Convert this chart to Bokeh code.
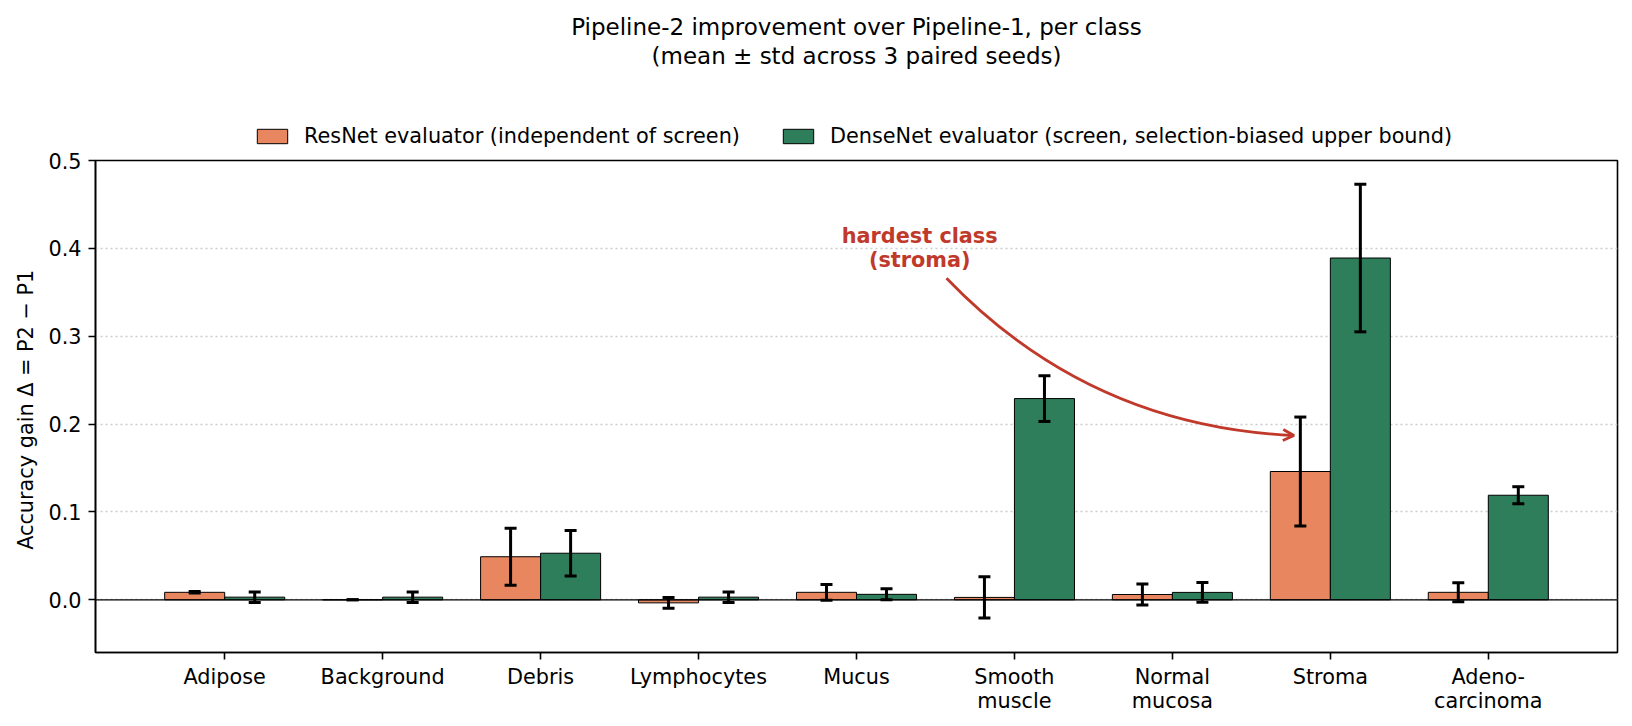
import numpy as np
from bokeh.plotting import figure
from bokeh.layouts import column
from bokeh.models import (ColumnDataSource, FixedTicker, Whisker, TeeHead, Span, Legend,
                          LegendItem, Label, Arrow, OpenHead, NumeralTickFormatter)
from bokeh.embed import file_html
from bokeh.resources import INLINE

classes = ["Adipose", "Background", "Debris", "Lymphocytes", "Mucus",
           "Smooth\nmuscle", "Normal\nmucosa", "Stroma", "Adeno-\ncarcinoma"]

resnet_mean = [0.0085, 0.0, 0.049, -0.0035, 0.0085, 0.0027, 0.006, 0.146, 0.0085]
resnet_std = [0.0008, 0.0, 0.0325, 0.006, 0.009, 0.0235, 0.012, 0.062, 0.0108]
densenet_mean = [0.003, 0.003, 0.053, 0.003, 0.0062, 0.229, 0.0084, 0.389, 0.119]
densenet_std = [0.006, 0.006, 0.026, 0.006, 0.0063, 0.026, 0.0113, 0.084, 0.0097]

labels = ["ResNet evaluator (independent of screen)",
          "DenseNet evaluator (screen, selection-biased upper bound)"]
title_lines = ["Pipeline-2 improvement over Pipeline-1, per class",
               "(mean \u00b1 std across 3 paired seeds)"]
ylabel = "Accuracy gain  \u0394 = P2 \u2212 P1"

annot_lines = ["hardest class", "(stroma)"]
annot_text_xy = (4.40, 0.40)
arrow_start = (4.57, 0.366)
arrow_end = (6.77, 0.187)
arrow_rad = 0.2

ORANGE = "#E8875F"
GREEN = "#2E7D5B"
RED = "#C0392B"
FONT = "DejaVu Sans"

W = 1624
HEAD_H = 148                       # header strip: title + legend
BL, BR, BT, BB = 95, 7, 12, 66
FRAME_H = 492
H = BT + FRAME_H + BB
xr = (-0.818, 8.818)
yr = (-0.06, 0.5)
bw = 0.38

idx = np.arange(len(classes))

# ---- header strip: titles and legend, y in pixels from the strip bottom ----
head = figure(width=W, height=HEAD_H, x_range=xr, y_range=(0, HEAD_H),
              output_backend="svg", toolbar_location=None, x_axis_type=None,
              y_axis_type=None, min_border=0, min_border_top=0, min_border_bottom=0)
head.outline_line_color = None
head.grid.visible = False
xmid = (xr[0] + xr[1]) / 2
for txt, base in zip(title_lines, (26.0, 55.0)):
    head.add_layout(Label(x=xmid, y=HEAD_H - base, y_units="screen",
                          text=txt, text_align="center", text_baseline="alphabetic",
                          text_font=FONT, text_font_size="23px", text_color="black"))
# legend proxies, kept outside the visible ranges
d1 = head.vbar(x=[xr[0] - 5], top=[-20], bottom=-30, width=bw, fill_color=ORANGE,
               line_color="black", line_width=1)
d2 = head.vbar(x=[xr[0] - 5], top=[-20], bottom=-30, width=bw, fill_color=GREEN,
               line_color="black", line_width=1)
legend = Legend(items=[LegendItem(label=labels[0], renderers=[d1]),
                       LegendItem(label=labels[1], renderers=[d2])],
                orientation="horizontal", location=(253 - BL, 0.3),
                padding=0, margin=0, spacing=39, label_standoff=13,
                glyph_width=38, glyph_height=18, label_height=20,
                border_line_alpha=0, background_fill_alpha=0,
                label_text_font=FONT, label_text_font_size="20.8px",
                label_text_color="black")
head.add_layout(legend)

# ---- main plot ----
p = figure(width=W, height=H, x_range=xr, y_range=yr, output_backend="svg",
           toolbar_location=None, min_border_left=BL, min_border_right=BR,
           min_border_top=BT, min_border_bottom=BB)
p.background_fill_color = "white"
p.border_fill_color = "white"
p.outline_line_color = "black"
p.outline_line_width = 1.6

src_r = ColumnDataSource(dict(x=idx - bw / 2, top=resnet_mean,
                              upper=np.array(resnet_mean) + np.array(resnet_std),
                              lower=np.array(resnet_mean) - np.array(resnet_std)))
src_d = ColumnDataSource(dict(x=idx + bw / 2, top=densenet_mean,
                              upper=np.array(densenet_mean) + np.array(densenet_std),
                              lower=np.array(densenet_mean) - np.array(densenet_std)))

p.vbar(x="x", top="top", bottom=0, width=bw, source=src_r, fill_color=ORANGE,
       line_color="black", line_width=1)
p.vbar(x="x", top="top", bottom=0, width=bw, source=src_d, fill_color=GREEN,
       line_color="black", line_width=1)

p.add_layout(Span(location=0, dimension="width", line_color="black", line_width=1.2))

for s in (src_r, src_d):
    w = Whisker(base="x", upper="upper", lower="lower", source=s, line_color="black",
                line_width=3, level="annotation",
                upper_head=TeeHead(size=12, line_width=3, line_color="black"),
                lower_head=TeeHead(size=12, line_width=3, line_color="black"))
    p.add_layout(w)

p.xgrid.visible = False
p.ygrid.grid_line_color = "#cccccc"
p.ygrid.grid_line_dash = "2 3"
p.ygrid.grid_line_width = 1.4

p.xaxis.ticker = FixedTicker(ticks=list(idx))
p.xaxis.major_label_overrides = {int(i): c for i, c in zip(idx, classes)}
p.yaxis.ticker = FixedTicker(ticks=[0.0, 0.1, 0.2, 0.3, 0.4, 0.5])
p.yaxis.formatter = NumeralTickFormatter(format="0.0")
for ax in (p.xaxis, p.yaxis):
    ax.axis_line_color = "black"
    ax.axis_line_width = 1.6
    ax.major_tick_line_color = "black"
    ax.major_tick_line_width = 1.6
    ax.major_tick_out = 7
    ax.major_tick_in = 0
    ax.minor_tick_line_color = None
    ax.major_label_text_font = FONT
    ax.major_label_text_font_size = "20.8px"
    ax.major_label_text_color = "black"
p.xaxis.major_label_standoff = 5
p.xaxis.major_label_text_line_height = 1.0
p.yaxis.major_label_standoff = 7
p.yaxis.axis_label = ylabel
p.yaxis.axis_label_text_font = FONT
p.yaxis.axis_label_text_font_size = "20.8px"
p.yaxis.axis_label_text_font_style = "normal"
p.yaxis.axis_label_text_color = "black"
p.yaxis.axis_label_standoff = 7

# annotation with curved arrow (matplotlib-style arc3)
for txt, off in zip(annot_lines, (12, -12)):
    p.add_layout(Label(x=annot_text_xy[0], y=annot_text_xy[1], y_offset=off, text=txt,
                       text_align="center", text_baseline="middle", text_font=FONT,
                       text_font_size="20.8px", text_font_style="bold", text_color=RED))

fw = W - BL - BR
sx = fw / (xr[1] - xr[0])
sy = FRAME_H / (yr[1] - yr[0])
px0, py0 = arrow_start[0] * sx, arrow_start[1] * sy
px1, py1 = arrow_end[0] * sx, arrow_end[1] * sy
dx, dy = px1 - px0, py1 - py0
cxp = (px0 + px1) / 2 + arrow_rad * dy
cyp = (py0 + py1) / 2 - arrow_rad * dx
cx, cy = cxp / sx, cyp / sy
p.quadratic(x0=[arrow_start[0]], y0=[arrow_start[1]], x1=[arrow_end[0]], y1=[arrow_end[1]],
            cx=[cx], cy=[cy], line_color=RED, line_width=2.8)
tx = arrow_end[0] - 0.03 * (arrow_end[0] - cx)
ty = arrow_end[1] - 0.03 * (arrow_end[1] - cy)
p.add_layout(Arrow(end=OpenHead(size=11, line_color=RED, line_width=2.8),
                   x_start=tx, y_start=ty, x_end=arrow_end[0], y_end=arrow_end[1],
                   line_color=RED, line_width=2.8))

layout = column(head, p, spacing=0)
open("out.html", "w").write(file_html(layout, INLINE))
